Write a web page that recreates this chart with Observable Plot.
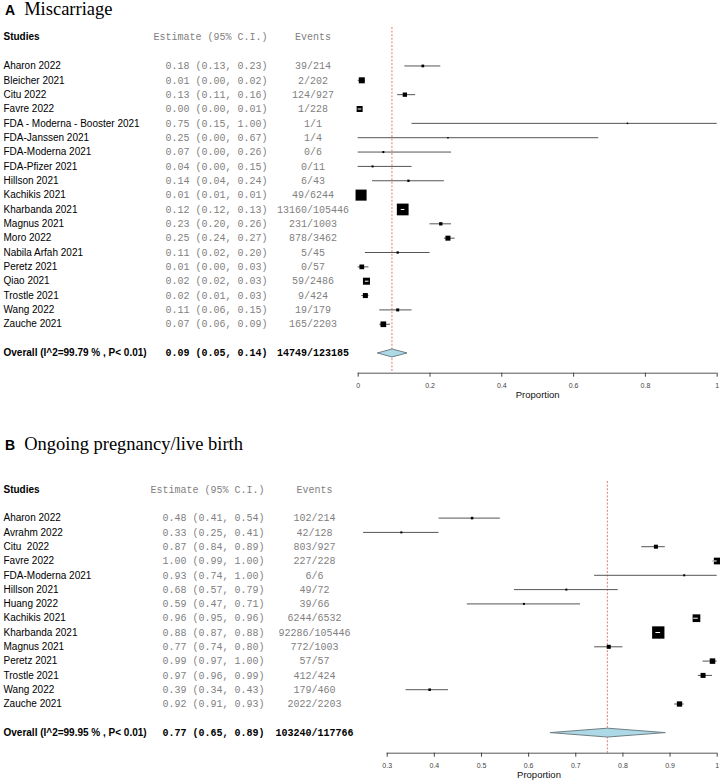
<!DOCTYPE html>
<html><head><meta charset="utf-8">
<script src="https://cdn.jsdelivr.net/npm/d3@7"></script>
<script src="https://cdn.jsdelivr.net/npm/@observablehq/plot@0.6"></script>
<style>
body{margin:0;background:#fff;}
#wrap{position:relative;width:720px;height:783px;overflow:hidden;background:#fff;}
.title{position:absolute;left:5px;font-family:"Liberation Serif","Times New Roman",serif;font-size:18.5px;line-height:1;color:#000;white-space:nowrap;}
.title b{font-family:"Liberation Sans",Arial,sans-serif;font-size:14px;margin-right:9px;}
.panel{position:absolute;left:0;}
svg text{white-space:pre;}
</style></head>
<body><div id="wrap">
<div class="title" id="tA" style="top:0px"></div>
<div class="panel" id="pA" style="top:22px"></div>
<div class="title" id="tB" style="top:434.5px"></div>
<div class="panel" id="pB" style="top:470px"></div>
</div>
<script>
// ---------- Panel A: Miscarriage ----------
const titleA = ["A", "Miscarriage"];
const studiesA = ["Aharon 2022","Bleicher 2021","Citu 2022","Favre 2022","FDA - Moderna - Booster 2021","FDA-Janssen 2021","FDA-Moderna 2021","FDA-Pfizer 2021","Hillson 2021","Kachikis 2021","Kharbanda 2021","Magnus 2021","Moro 2022","Nabila Arfah 2021","Peretz 2021","Qiao 2021","Trostle 2021","Wang 2022","Zauche 2021"];
const estA = [0.18,0.01,0.13,0.004,0.75,0.25,0.07,0.04,0.14,0.008,0.124,0.23,0.25,0.11,0.01,0.023,0.02,0.11,0.07];
const loA  = [0.13,0.00,0.11,0.00,0.15,0.00,0.00,0.00,0.04,0.01,0.12,0.20,0.24,0.02,0.00,0.02,0.01,0.06,0.06];
const hiA  = [0.23,0.02,0.16,0.01,1.00,0.67,0.26,0.15,0.24,0.01,0.13,0.26,0.27,0.20,0.03,0.03,0.03,0.15,0.09];
const eventsA = ["39/214","2/202","124/927","1/228","1/1","1/4","0/6","0/11","6/43","49/6244","13160/105446","231/1003","878/3462","5/45","0/57","59/2486","9/424","19/179","165/2203"];
const weightA = [7.3,36,18.5,36,2.3,2.3,4,4,5.3,121,137,11,25,5.3,22,49,25,9,32];
const overallLabelA = "Overall (I^2=99.79 % , P< 0.01)";
const overallA = [0.094, 0.054, 0.136];
const overallEventsA = "14749/123185";
const ticksA = [0, 0.2, 0.4, 0.6, 0.8, 1];

// ---------- Panel B: Ongoing pregnancy/live birth ----------
const titleB = ["B", "Ongoing pregnancy/live birth"];
const studiesB = ["Aharon 2022","Avrahm 2022","Citu  2022","Favre 2022","FDA-Moderna 2021","Hillson 2021","Huang 2022","Kachikis 2021","Kharbanda 2021","Magnus 2021","Peretz 2021","Trostle 2021","Wang 2022","Zauche 2021"];
const estB = [0.48,0.33,0.87,1.00,0.93,0.68,0.59,0.956,0.875,0.77,0.99,0.97,0.39,0.92];
const loB  = [0.41,0.25,0.84,0.99,0.74,0.57,0.47,0.95,0.87,0.74,0.97,0.96,0.34,0.91];
const hiB  = [0.54,0.41,0.89,1.00,1.00,0.79,0.71,0.96,0.88,0.80,1.00,0.99,0.43,0.93];
const eventsB = ["102/214","42/128","803/927","227/228","6/6","49/72","39/66","6244/6532","92286/105446","772/1003","57/57","412/424","179/460","2022/2203"];
const weightB = [6.3,4,16,45,4,4,4,59,151,16,30,25,6.3,28];
const overallLabelB = "Overall (I^2=99.95 % , P< 0.01)";
const overallB = [0.767, 0.646, 0.89];
const overallEventsB = "103240/117766";
const ticksB = [0.3, 0.4, 0.5, 0.6, 0.7, 0.8, 0.9, 1];

const headers = ["Studies", "Estimate (95% C.I.)", "Events"];
const axisLabel = "Proportion";

// ---------- styling / layout ----------
const SANS = "'Liberation Sans', Arial, sans-serif";
const MONO = "'Liberation Mono', 'Courier New', monospace";
const GRAY = "#7f7f7f";
const R = {domain: [0, 150], range: [0, 12.3 / Math.sqrt(Math.PI)]};

const fmt = v => v.toFixed(2);

function panel(p, L) {
  const rows = p.studies.map((s, i) => ({
    study: s, est: p.est[i], lo: p.lo[i], hi: p.hi[i], events: p.events[i], w: p.weight[i],
    row: i + L.firstRow,
    ci: `${fmt(p.est[i])} (${fmt(p.lo[i])}, ${fmt(p.hi[i])})`
  }));
  const oRow = L.firstRow + rows.length + 1;
  const [oe, ol, oh] = p.overall;
  const overall = [{label: p.overallLabel, row: oRow, ci: `${fmt(oe)} (${fmt(ol)}, ${fmt(oh)})`, events: p.overallEvents}];
  const header = [{row: 0}];
  const pxPerUnit = (L.width - L.marginLeft - L.marginRight) / (L.xDomain[1] - L.xDomain[0]);
  const rScale = d3.scaleSqrt().domain(R.domain).range(R.range);
  const inside = rows.filter(d => (d.hi - d.lo) * pxPerUnit < rScale(d.w) * Math.sqrt(Math.PI) - 0.5);
  const diamond = [
    {x: ol, y: oRow}, {x: oe, y: oRow - L.dh}, {x: oh, y: oRow}, {x: oe, y: oRow + L.dh}, {x: ol, y: oRow}
  ];
  const yAxisRow = L.yDomain[1];
  const colText = (data, text, col, anchor, font, weight, fill) =>
    Plot.text(data, {y: "row", text, frameAnchor: "left", dx: col - L.marginLeft, textAnchor: anchor,
      fontFamily: font, fontWeight: weight, fontSize: 10, fill});

  return Plot.plot({
    width: L.width, height: L.height,
    marginTop: L.marginTop, marginBottom: L.marginBottom,
    marginLeft: L.marginLeft, marginRight: L.marginRight,
    style: {fontFamily: SANS, background: "transparent", overflow: "visible"},
    x: {domain: L.xDomain},
    y: {domain: L.yDomain, reverse: true, axis: null},
    r: {type: "sqrt", domain: R.domain, range: R.range},
    marks: [
      Plot.ruleX([oe], {stroke: "#e57a7a", strokeDasharray: "2,1.6", strokeWidth: 1}),
      Plot.ruleY(rows, {y: "row", x1: "lo", x2: "hi", stroke: "#555", strokeWidth: 1}),
      Plot.dot(rows, {x: "est", y: "row", r: "w", symbol: "square", fill: "#000", stroke: null}),
      Plot.ruleY(inside, {y: "row", x1: "lo", x2: "hi", stroke: "#fff", strokeWidth: 1}),
      Plot.line(diamond, {x: "x", y: "y", fill: "#add8e6", stroke: "#6e7f85", strokeWidth: 1}),
      Plot.ruleY([yAxisRow], {x1: p.ticks[0], x2: p.ticks[p.ticks.length - 1], stroke: "#555"}),
      Plot.axisX({ticks: p.ticks, tickFormat: d => String(d), tickSize: 4, tickPadding: 6,
        fontSize: 7, color: "#444", label: null}),
      Plot.text([axisLabel], {frameAnchor: "bottom", dy: 24.5, fontSize: 9.5, fontFamily: SANS, fill: "#111"}),
      colText(header, () => headers[0], L.colStudy, "start", SANS, "bold", "#000"),
      colText(header, () => headers[1], L.colEst, "end", MONO, "normal", GRAY),
      colText(header, () => headers[2], L.colEvents, "middle", MONO, "normal", GRAY),
      colText(rows, "study", L.colStudy, "start", SANS, "normal", "#000"),
      colText(rows, "ci", L.colEst, "end", MONO, "normal", GRAY),
      colText(rows, "events", L.colEvents, "middle", MONO, "normal", GRAY),
      colText(overall, "label", L.colStudy, "start", SANS, "bold", "#000"),
      colText(overall, "ci", L.colEst, "end", MONO, "bold", "#000"),
      colText(overall, "events", L.colEvents, "middle", MONO, "bold", "#000")
    ]
  });
}

function setTitle(el, t) {
  const b = document.createElement("b");
  b.textContent = t[0];
  el.appendChild(b);
  el.appendChild(document.createTextNode(t[1]));
}
setTitle(document.getElementById("tA"), titleA);
setTitle(document.getElementById("tB"), titleB);

document.getElementById("pA").appendChild(panel(
  {studies: studiesA, est: estA, lo: loA, hi: hiA, events: eventsA, weight: weightA,
   overall: overallA, overallLabel: overallLabelA, overallEvents: overallEventsA, ticks: ticksA},
  {width: 720, height: 388, marginTop: 5, marginBottom: 37.3, marginLeft: 357.7, marginRight: 3.3,
   xDomain: [0, 1], yDomain: [-0.68, 23.41], firstRow: 2, dh: 0.28,
   colStudy: 3, colEst: 267, colEvents: 312.5}
));
document.getElementById("pB").appendChild(panel(
  {studies: studiesB, est: estB, lo: loB, hi: hiB, events: eventsB, weight: weightB,
   overall: overallB, overallLabel: overallLabelB, overallEvents: overallEventsB, ticks: ticksB},
  {width: 720, height: 313, marginTop: 11, marginBottom: 30.3, marginLeft: 360.3, marginRight: 3.3,
   xDomain: [0.244, 1], yDomain: [-0.56, 18.44], firstRow: 2, dh: 0.31,
   colStudy: 3, colEst: 264, colEvents: 314}
));
</script>
</body></html>
